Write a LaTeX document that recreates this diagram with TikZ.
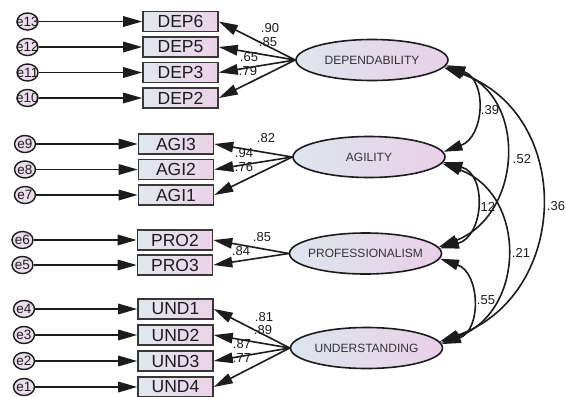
\documentclass[tikz,border=0pt]{standalone}
\usepackage{fontspec}
\setmainfont{Liberation Sans}
\usetikzlibrary{arrows.meta,shapes.geometric}
\definecolor{ink}{HTML}{1C1C1C}
\definecolor{frame}{HTML}{383838}
\definecolor{boxleft}{HTML}{E1E7EF}
\definecolor{boxright}{HTML}{EBD2E8}
\definecolor{latleft}{HTML}{DDE5EE}
\definecolor{latright}{HTML}{E8D0E6}
\definecolor{errfill}{HTML}{EBDDEC}
\begin{document}
\begin{tikzpicture}[x=1pt,y=-1pt,
  indicator/.style={draw=frame, line width=1.6pt, left color=boxleft, right color=boxright,
    minimum width=75pt, minimum height=20pt, inner sep=0pt,
    font=\fontsize{17.5}{18}\selectfont, text=ink},
  latent/.style={ellipse, draw=ink, line width=1.6pt, left color=latleft, right color=latright,
    minimum width=152pt, minimum height=41pt, inner sep=0pt},
  lattext/.style={font=\fontsize{12}{13}\selectfont, text=ink!90, inner sep=0pt},
  errvar/.style={ellipse, draw=ink, line width=1.4pt, fill=errfill,
    minimum width=21pt, minimum height=17pt, inner sep=0pt},
  errtext/.style={font=\fontsize{13.5}{14}\selectfont, text=ink, inner sep=0pt},
  coef/.style={font=\fontsize{13}{14}\selectfont, inner sep=0pt, text=ink},
  headtip/.tip={Triangle[length=19pt,width=10.5pt]},
  load/.style={draw=ink, line width=1.6pt, -headtip},
  cov/.style={draw=ink, line width=1.6pt, headtip-headtip}
]
\fill[white] (0,0) rectangle (566,397);
\useasboundingbox (0,0) rectangle (566,397);

% latent factors
\node[latent, label={[lattext]center:DEPENDABILITY}]   (dep) at (372,60) {};
\node[latent, label={[lattext]center:AGILITY}]         (agi) at (369,157) {};
\node[latent, label={[lattext]center:PROFESSIONALISM}] (pro) at (365.5,253.5) {};
\node[latent, label={[lattext]center:UNDERSTANDING}]   (und) at (366.5,348) {};

% observed indicators
\node[indicator] (dep6) at (180.5,21.5) {DEP6};
\node[indicator] (dep5) at (180.5,47)   {DEP5};
\node[indicator] (dep3) at (180.5,72.5) {DEP3};
\node[indicator] (dep2) at (180.5,98)   {DEP2};
\node[indicator] (agi3) at (176,144)    {AGI3};
\node[indicator] (agi2) at (176,169.5)  {AGI2};
\node[indicator] (agi1) at (176,195)    {AGI1};
\node[indicator] (pro2) at (175,240)    {PRO2};
\node[indicator] (pro3) at (175,265)    {PRO3};
\node[indicator] (und1) at (175.5,309)  {UND1};
\node[indicator] (und2) at (175.5,335)  {UND2};
\node[indicator] (und3) at (175.5,361)  {UND3};
\node[indicator] (und4) at (175.5,387)  {UND4};

% error terms
\node[errvar, label={[errtext]center:e13}] (e13) at (27.5,21.5) {};
\node[errvar, label={[errtext]center:e12}] (e12) at (27.5,47) {};
\node[errvar, label={[errtext]center:e11}] (e11) at (27.5,72.5) {};
\node[errvar, label={[errtext]center:e10}] (e10) at (27.5,98) {};
\node[errvar, label={[errtext]center:e9}]  (e9)  at (25,144) {};
\node[errvar, label={[errtext]center:e8}]  (e8)  at (25,169.5) {};
\node[errvar, label={[errtext]center:e7}]  (e7)  at (25,195) {};
\node[errvar, label={[errtext]center:e6}]  (e6)  at (22.5,240) {};
\node[errvar, label={[errtext]center:e5}]  (e5)  at (22.5,265) {};
\node[errvar, label={[errtext]center:e4}]  (e4)  at (24,309) {};
\node[errvar, label={[errtext]center:e3}]  (e3)  at (24,335) {};
\node[errvar, label={[errtext]center:e2}]  (e2)  at (24,361) {};
\node[errvar, label={[errtext]center:e1}]  (e1)  at (24,387) {};

% error paths
\foreach \e/\b in {e13/dep6,e12/dep5,e11/dep3,e10/dep2,e9/agi3,e8/agi2,e7/agi1,
                   e6/pro2,e5/pro3,e4/und1,e3/und2,e2/und3,e1/und4}
  \draw[load] (\e.east) -- (\b.west);

% factor loadings
\foreach \b in {dep6,dep5,dep3,dep2} \draw[load] (dep.west) -- (\b.east);
\foreach \b in {agi3,agi2,agi1} \draw[load] (agi.west) -- (\b.east);
\foreach \b in {pro2,pro3} \draw[load] (pro.west) -- (\b.east);
\foreach \b in {und1,und2,und3,und4} \draw[load] (und.west) -- (\b.east);

% loading estimates
\node[coef] (cdep6) at (270,28)  {.90};
\node[coef] (cdep5) at (268,42)  {.85};
\node[coef] (cdep3) at (249,57)  {.65};
\node[coef] (cdep2) at (248,71)  {.79};
\node[coef] (cagi3) at (266,138) {.82};
\node[coef] (cagi2) at (244,153) {.94};
\node[coef] (cagi1) at (244,167) {.76};
\node[coef] (cpro2) at (262,237) {.85};
\node[coef] (cpro3) at (241,251) {.84};
\node[coef] (cund1) at (264,317) {.81};
\node[coef] (cund2) at (263,330) {.89};
\node[coef] (cund3) at (242,344) {.87};
\node[coef] (cund4) at (242,358) {.77};

% factor covariances
\draw[cov] (dep.-4) .. controls +(41,15)  and +(41,-15)  .. (agi.4);
\draw[cov] (dep.-5) .. controls +(83,32)  and +(83,-32)  .. (pro.5);
\draw[cov] (dep.-6) .. controls +(131,46) and +(131,-46) .. (und.5);
\draw[cov] (agi.-4) .. controls +(44,12)  and +(44,-12)  .. (pro.4);
\draw[cov] (agi.-5) .. controls +(85,31)  and +(85,-31)  .. (und.4);
\draw[cov] (pro.-4) .. controls +(40,14)  and +(40,-14)  .. (und.3);

\node[coef] (cda) at (490,110) {.39};
\node[coef] (cdp) at (522,159) {.52};
\node[coef] (cdu) at (556,206) {.36};
\node[coef] (cap) at (486,207) {.12};
\node[coef] (cau) at (521,253) {.21};
\node[coef] (cpu) at (486,300) {.55};
\end{tikzpicture}
\end{document}
